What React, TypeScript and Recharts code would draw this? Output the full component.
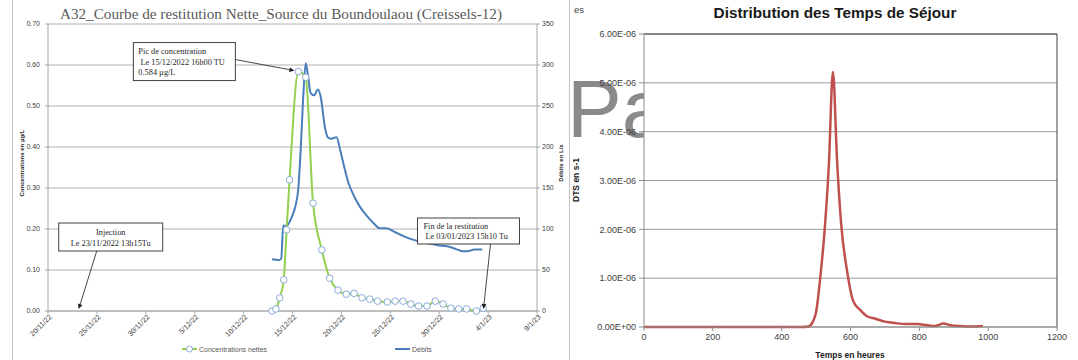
import React from "react";
import {
  ComposedChart,
  LineChart,
  Line,
  XAxis,
  YAxis,
  CartesianGrid,
  ReferenceDot,
  ReferenceLine,
} from "recharts";

// --- courbe de restitution (jours depuis le 20/11/22) ---
const dateTickDays = [0, 5, 10, 15, 20, 25, 30, 35, 40, 45, 50];
const dateTickLabels = ["20/11/22", "25/11/22", "30/11/22", "5/12/22", "10/12/22", "15/12/22", "20/12/22", "25/12/22", "30/12/22", "4/1/23", "9/1/23"];
const concTicks = [0, 0.1, 0.2, 0.3, 0.4, 0.5, 0.6, 0.7];
const debitTicks = [0, 50, 100, 150, 200, 250, 300, 350];

const concDays = [22.9, 23.3, 23.7, 24.1, 24.4, 24.7, 25.6, 26.35, 27.1, 28.0, 28.8, 29.65, 30.5, 31.3, 32.1, 32.9, 33.7, 34.7, 35.5, 36.3, 37.1, 37.9, 38.75, 39.6, 40.4, 41.2, 42.0, 42.8, 43.8, 44.5];
const concValues = [0.0, 0.005, 0.032, 0.076, 0.198, 0.32, 0.584, 0.57, 0.263, 0.149, 0.08, 0.051, 0.041, 0.043, 0.032, 0.029, 0.024, 0.022, 0.024, 0.024, 0.017, 0.012, 0.012, 0.024, 0.017, 0.007, 0.005, 0.005, 0.0, 0.007];

const debitDays = [22.9, 23.6, 23.85, 24.05, 24.4, 24.9, 25.3, 25.6, 25.85, 26.1, 26.35, 26.55, 26.85, 27.2, 27.6, 27.9, 28.3, 28.6, 29.0, 29.5, 29.9, 30.3, 30.7, 31.3, 31.9, 32.6, 33.3, 33.9, 34.6, 35.5, 36.4, 37.3, 38.2, 39.1, 40.0, 40.8, 41.6, 42.4, 42.9, 43.6, 44.4];
const debitValues = [63, 62, 64, 104, 104, 114, 128, 150, 200, 262, 302, 290, 266, 263, 270, 260, 225, 212, 210, 212, 195, 175, 157, 140, 127, 116, 107, 101, 101, 96, 91, 87, 84, 82, 80, 79, 76, 73, 73, 75, 75];

// --- distribution des temps de séjour ---
const hourTicks = [0, 200, 400, 600, 800, 1000, 1200];
const dtsTicks = [0, 1e-6, 2e-6, 3e-6, 4e-6, 5e-6, 6e-6];
const dtsHours = [0, 460, 478, 490, 500, 512, 525, 537, 549, 561, 573, 590, 608, 628, 648, 672, 700, 730, 760, 795, 820, 845, 870, 895, 920, 950, 985];
const dtsValues = [0, 0, 0.01e-6, 0.1e-6, 0.3e-6, 1.0e-6, 2.0e-6, 3.3e-6, 5.22e-6, 3.4e-6, 2.1e-6, 1.15e-6, 0.53e-6, 0.35e-6, 0.22e-6, 0.17e-6, 0.11e-6, 0.08e-6, 0.06e-6, 0.06e-6, 0.04e-6, 0.02e-6, 0.07e-6, 0.03e-6, 0.02e-6, 0.01e-6, 0.02e-6];

const concData = concDays.map((t, i) => ({ t, conc: concValues[i] }));
const debitData = debitDays.map((t, i) => ({ t, debit: debitValues[i] }));
const dtsData = dtsHours.map((h, i) => ({ h, dts: dtsValues[i] }));

const SERIF = "'Liberation Serif', serif";
const SANS = "'Liberation Sans', sans-serif";

const sci = (v: number) => {
  const [m, e] = v.toExponential(2).split("e");
  const sign = e[0];
  return `${m}E${sign}${e.slice(1).padStart(2, "0")}`;
};

const DateTick = (props: any) => {
  const { x, y, payload } = props;
  const idx = dateTickDays.indexOf(payload.value);
  return (
    <g transform={`translate(${x},${y})`}>
      <text x={2} y={4} textAnchor="end" transform="rotate(-45)" fontSize={7.2} fontFamily={SANS} fill="#404040">
        {dateTickLabels[idx]}
      </text>
    </g>
  );
};

const arrow = (x1: number, y1: number, x2: number, y2: number) => {
  const len = Math.hypot(x2 - x1, y2 - y1);
  const ux = (x2 - x1) / len;
  const uy = (y2 - y1) / len;
  const bx = x2 - ux * 5;
  const by = y2 - uy * 5;
  return (
    <g>
      <line x1={x1} y1={y1} x2={bx} y2={by} stroke="#1a1a1a" strokeWidth={0.8} />
      <polygon
        points={`${x2},${y2} ${bx - uy * 2.3},${by + ux * 2.3} ${bx + uy * 2.3},${by - ux * 2.3}`}
        fill="#1a1a1a"
      />
    </g>
  );
};

type CalloutOpts = {
  dx: number; dy: number; w: number; h: number;
  from: [number, number]; to: [number, number];
  lines: { text: string; x: number; y: number; anchor?: "start" | "middle" }[];
};

const callout = (o: CalloutOpts) => (props: any) => {
  const { cx, cy } = props;
  if (cx == null || cy == null) return <g />;
  return (
    <g>
      {arrow(cx + o.from[0], cy + o.from[1], cx + o.to[0], cy + o.to[1])}
      <rect x={cx + o.dx} y={cy + o.dy} width={o.w} height={o.h} fill="#fff" stroke="#404040" strokeWidth={1} />
      {o.lines.map((l, i) => (
        <text key={i} x={cx + o.dx + l.x} y={cy + o.dy + l.y} textAnchor={l.anchor ?? "start"} fontSize={8.3} fontFamily={SERIF} fill="#262626" style={{ whiteSpace: "pre" }}>
          {l.text}
        </text>
      ))}
    </g>
  );
};

const picShape = callout({
  dx: -165, dy: -29, w: 102, h: 38, from: [-63, -12], to: [-4, -1],
  lines: [
    { text: "Pic de concentration", x: 5, y: 11.5 },
    { text: " Le 15/12/2022 16h00 TU", x: 5, y: 22 },
    { text: "0.584 µg/L", x: 5, y: 32.5 },
  ],
});
const injShape = callout({
  dx: -24, dy: -88, w: 104, h: 28, from: [14, -60], to: [-4, -2],
  lines: [
    { text: "Injection", x: 52, y: 12, anchor: "middle" },
    { text: "Le 23/11/2022 13h15Tu", x: 52, y: 23, anchor: "middle" },
  ],
});
const finShape = callout({
  dx: -67, dy: -93, w: 102, h: 26, from: [6, -67], to: [-1, -2],
  lines: [
    { text: "Fin de la restitution", x: 6, y: 10.5 },
    { text: " Le 03/01/2023 15h10 Tu", x: 6, y: 21 },
  ],
});

const tickStyle = { fontSize: 7, fontFamily: SANS, fill: "#404040" };
const dtsTickStyle = { fontSize: 9, fontFamily: SANS, fill: "#404040" };

function RestitutionChart() {
  return (
    <div style={{ position: "absolute", left: 0, top: 0 }}>
      <ComposedChart width={570} height={360} margin={{ top: 24, right: 8, bottom: 19, left: 18 }}>
        <CartesianGrid yAxisId="left" vertical={false} stroke="#b0b0b0" strokeWidth={1} />
        <XAxis
          dataKey="t"
          type="number"
          domain={[0, 50]}
          ticks={dateTickDays}
          height={30}
          tick={<DateTick />}
          tickSize={3}
          tickMargin={2}
          axisLine={{ stroke: "#a6a6a6" }}
          tickLine={{ stroke: "#a6a6a6" }}
          interval={0}
          allowDataOverflow
        />
        <YAxis
          yAxisId="left"
          domain={[0, 0.7]}
          ticks={concTicks}
          width={30}
          tickFormatter={(v: number) => v.toFixed(2)}
          tick={tickStyle}
          tickSize={3}
          tickMargin={5}
          axisLine={{ stroke: "#a6a6a6" }}
          tickLine={{ stroke: "#a6a6a6" }}
          interval={0}
        />
        <YAxis
          yAxisId="right"
          orientation="right"
          domain={[0, 350]}
          ticks={debitTicks}
          width={25}
          tick={tickStyle}
          tickSize={3}
          tickMargin={2}
          axisLine={{ stroke: "#a6a6a6" }}
          tickLine={{ stroke: "#a6a6a6" }}
          interval={0}
        />
        <Line
          yAxisId="right"
          data={debitData}
          dataKey="debit"
          type="monotone"
          stroke="#4a7ebb"
          strokeWidth={2}
          dot={false}
          isAnimationActive={false}
        />
        <Line
          yAxisId="left"
          data={concData}
          dataKey="conc"
          type="monotone"
          stroke="#92d050"
          strokeWidth={2}
          dot={{ r: 3.3, fill: "#fff", stroke: "#8aabd9", strokeWidth: 1 }}
          isAnimationActive={false}
        />
        <ReferenceDot yAxisId="left" x={25.6} y={0.584} ifOverflow="visible" shape={picShape} />
        <ReferenceDot yAxisId="left" x={3.55} y={0} ifOverflow="visible" shape={injShape} />
        <ReferenceDot yAxisId="left" x={44.63} y={0} ifOverflow="visible" shape={finShape} />
      </ComposedChart>
      <svg width={570} height={360} style={{ position: "absolute", left: 0, top: 0, pointerEvents: "none" }}>
        <text x={281} y={19} textAnchor="middle" fontSize={15.2} fontFamily={SERIF} fill="#595959">
          A32_Courbe de restitution Nette_Source du Boundoulaou (Creissels-12)
        </text>
        <text transform="translate(24,163) rotate(-90)" textAnchor="middle" fontSize={6} fontWeight="bold" fontFamily={SANS} fill="#262626">
          Concentrations en µg/L
        </text>
        <text transform="translate(563,163) rotate(-90)" textAnchor="middle" fontSize={6} fontWeight="bold" fontFamily={SANS} fill="#262626">
          Débits en L/s
        </text>
        <line x1={182} y1={349} x2={197} y2={349} stroke="#92d050" strokeWidth={2} />
        <circle cx={189.5} cy={349} r={3} fill="#fff" stroke="#8aabd9" strokeWidth={1} />
        <text x={199} y={351.5} fontSize={7} fontFamily={SANS} fill="#595959">Concentrations nettes</text>
        <line x1={395} y1={349} x2={410} y2={349} stroke="#4a7ebb" strokeWidth={2} />
        <text x={412} y={351.5} fontSize={7} fontFamily={SANS} fill="#595959">Débits</text>
      </svg>
    </div>
  );
}

function DtsChart() {
  return (
    <div style={{ position: "absolute", left: 570, top: 0 }}>
      <svg width={74} height={360} style={{ position: "absolute", left: 0, top: 0 }}>
        <text x={-3} y={137} fontSize={82} fontFamily={SANS} fill="#8a8a8a">Pa</text>
        <text x={4} y={13} fontSize={9.5} fontFamily={SANS} fill="#404040">es</text>
      </svg>
      <LineChart width={508} height={360} data={dtsData} margin={{ top: 34, right: 21, bottom: 13, left: 14 }}>
        <CartesianGrid vertical={false} stroke="#9a9a9a" strokeWidth={1} />
        <XAxis
          dataKey="h"
          type="number"
          domain={[0, 1200]}
          ticks={hourTicks}
          height={20}
          tick={dtsTickStyle}
          tickSize={4}
          tickMargin={3}
          axisLine={{ stroke: "#8c8c8c" }}
          tickLine={{ stroke: "#8c8c8c" }}
          interval={0}
        />
        <YAxis
          domain={[0, 6e-6]}
          ticks={dtsTicks}
          width={60}
          tickFormatter={sci}
          tick={dtsTickStyle}
          tickSize={5}
          tickMargin={3}
          axisLine={{ stroke: "#8c8c8c" }}
          tickLine={{ stroke: "#8c8c8c" }}
          interval={0}
        />
        <ReferenceLine y={6e-6} stroke="#404040" strokeWidth={1} />
        <ReferenceLine x={1200} stroke="#404040" strokeWidth={1} />
        <Line
          dataKey="dts"
          type="monotone"
          stroke="#c0504d"
          strokeWidth={2.5}
          dot={false}
          isAnimationActive={false}
        />
      </LineChart>
      <svg width={508} height={360} style={{ position: "absolute", left: 0, top: 0, pointerEvents: "none" }}>
        <text x={265} y={18} textAnchor="middle" fontSize={15.3} fontWeight="bold" fontFamily={SANS} fill="#1a1a1a">
          Distribution des Temps de Séjour
        </text>
        <text transform="translate(9,180) rotate(-90)" textAnchor="middle" fontSize={8.5} fontWeight="bold" fontFamily={SANS} fill="#1a1a1a">
          DTS en s-1
        </text>
        <text x={280} y={358} textAnchor="middle" fontSize={8.5} fontWeight="bold" fontFamily={SANS} fill="#1a1a1a">
          Temps en heures
        </text>
      </svg>
    </div>
  );
}

export default function App() {
  return (
    <div style={{ position: "absolute", left: 0, top: 0, width: 1078, height: 360, background: "#fff", overflow: "hidden" }}>
      <div style={{ position: "absolute", left: 12, top: -2, width: 556, height: 364, borderLeft: "1px solid #c4c4c4", borderRight: "1px solid #c4c4c4" }} />
      <RestitutionChart />
      <DtsChart />
    </div>
  );
}
